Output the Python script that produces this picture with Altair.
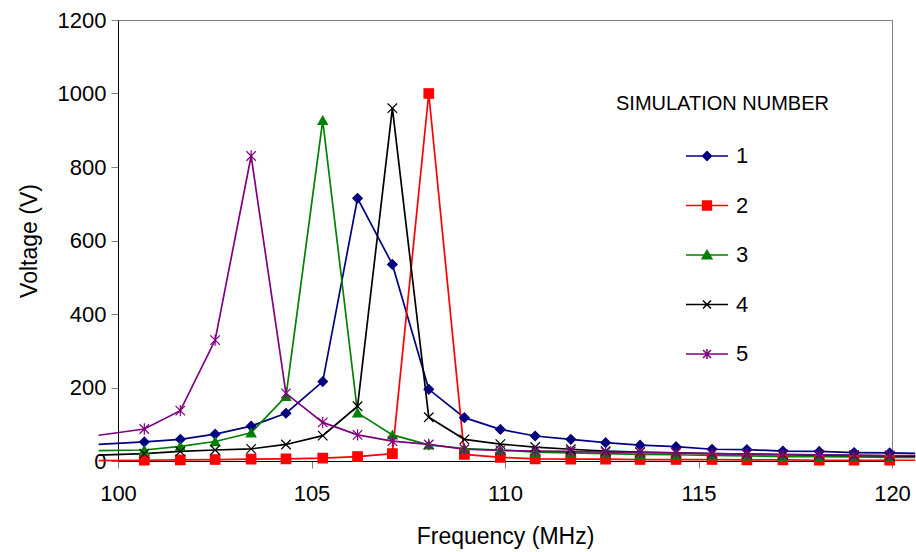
import altair as alt
import pandas as pd

# ---- data ----
freq_mhz = [100.68, 101.61, 102.51, 103.44, 104.34, 105.29, 106.19, 107.09, 108.03, 108.95, 109.88,
            110.78, 111.70, 112.60, 113.49, 114.42, 115.35, 116.25, 117.18, 118.12, 119.02, 119.94]
sim_1 = [52, 59, 73, 95, 130, 216, 715, 535, 195, 118, 86, 68, 59, 50, 43, 39, 32, 31, 27, 26, 23, 22]
sim_2 = [2, 3, 4, 5, 6, 8, 12, 20, 1000, 18, 10, 6, 5, 5, 4, 4, 4, 3, 3, 2, 2, 2]
sim_3 = [30, 40, 53, 77, 176, 927, 131, 71, 44, 34, 30, 24, 22, 20, 18, 17, 15, 14, 12, 12, 11, 10]
sim_4 = [20, 26, 30, 33, 45, 69, 149, 960, 119, 59, 46, 38, 32, 27, 24, 22, 20, 19, 17, 16, 15, 14]
sim_5 = [87, 137, 329, 830, 184, 105, 71, 54, 45, 32, 29, 27, 26, 24, 23, 22, 20, 19, 18, 17, 16, 15]

# line ends visible just outside the axis range (left and right)
edge_freq = [99.5, 120.6]
edge_1 = [45, 21]
edge_2 = [1, 2]
edge_3 = [28, 10]
edge_4 = [16, 13]
edge_5 = [70, 15]

series_names = ["1", "2", "3", "4", "5"]
series_colors = ["#000080", "#FF0000", "#008000", "#000000", "#800080"]
x_ticks = [100, 105, 110, 115, 120]
y_ticks = [0, 200, 400, 600, 800, 1000, 1200]

chart_shapes = [
    "diamond",
    "square",
    "triangle-up",
    "M-1,-1L1,1M-1,1L1,-1",
    "M-1,-1L1,1M-1,1L1,-1M0,-1.2L0,1.2",
]
m = 0.21
legend_shapes = [
    f"M-1,0L1,0M0,-{m}L{m},0L0,{m}L-{m},0Z",
    f"M-1,0L1,0M-{m},-{m}L{m},-{m}L{m},{m}L-{m},{m}Z",
    "M-1,0L1,0M0,-0.22L0.23,0.18L-0.23,0.18Z",
    "M-1,0L1,0M-0.19,-0.19L0.19,0.19M-0.19,0.19L0.19,-0.19",
    "M-1,0L1,0M-0.19,-0.19L0.19,0.19M-0.19,0.19L0.19,-0.19M0,-0.24L0,0.24",
]

rows = []
for name, vals, edge in zip(series_names, [sim_1, sim_2, sim_3, sim_4, sim_5],
                            [edge_1, edge_2, edge_3, edge_4, edge_5]):
    rows.append((edge_freq[0], edge[0], name, "edge"))
    for f, v in zip(freq_mhz, vals):
        rows.append((f, v, name, "data"))
    rows.append((edge_freq[1], edge[1], name, "edge"))
df = pd.DataFrame(rows, columns=["freq", "volt", "series", "kind"])

FONT = "Liberation Sans"

x_enc = alt.X("freq:Q", scale=alt.Scale(domain=[100, 120], nice=False, zero=False),
              axis=alt.Axis(values=x_ticks, title="Frequency (MHz)", labelPadding=15, titlePadding=21,
                            labelFlush=False, format="d"))
y_enc = alt.Y("volt:Q", scale=alt.Scale(domain=[0, 1200], nice=False),
              axis=alt.Axis(values=y_ticks, title="Voltage (V)", labelPadding=5, titlePadding=16,
                            labelFlush=False, format="d"))

col_scale = alt.Scale(domain=series_names, range=series_colors)

lines = alt.Chart(df).mark_line(strokeWidth=1.7).encode(
    x=x_enc, y=y_enc,
    color=alt.Color("series:N", scale=col_scale, legend=None),
)

points = alt.Chart(df).transform_filter(alt.datum.kind == "data").mark_point(
    filled=True, size=90, opacity=1, strokeWidth=1.2
).encode(
    x=x_enc, y=y_enc,
    fill=alt.Fill("series:N", scale=col_scale, legend=None),
    stroke=alt.Stroke("series:N", scale=col_scale, legend=None),
    shape=alt.Shape("series:N", scale=alt.Scale(domain=series_names, range=chart_shapes), legend=None),
)

leg = alt.Legend(
    title="SIMULATION NUMBER", orient="none", legendX=498, legendY=74,
    symbolSize=1764, symbolStrokeWidth=1.5, symbolOffset=69, labelOffset=7,
    rowPadding=16.5, titlePadding=20, padding=0, titleLimit=500,
    titleFont=FONT, titleFontSize=20, titleFontWeight="normal", titleColor="black",
    labelFont=FONT, labelFontSize=22, labelColor="black", symbolOpacity=1,
)

legend_layer = alt.Chart(df).transform_filter(alt.datum.freq > 1000).transform_calculate(
    legend="datum.series"
).mark_point(filled=True, opacity=1, strokeWidth=1.5).encode(
    x=x_enc, y=y_enc,
    fill=alt.Fill("legend:N", scale=col_scale, legend=leg),
    stroke=alt.Stroke("legend:N", scale=col_scale, legend=leg),
    shape=alt.Shape("legend:N", scale=alt.Scale(domain=series_names, range=legend_shapes), legend=leg),
)

chart = alt.layer(lines, points, legend_layer).resolve_scale(
    fill="independent", stroke="independent", shape="independent"
).properties(
    width=774, height=441,
    padding={"left": 118, "top": 20, "right": 24, "bottom": 91},
    autosize=alt.AutoSizeParams(type="none"),
    background="white",
).configure_view(
    stroke="#808080", strokeWidth=1
).configure_axis(
    labelFont=FONT, titleFont=FONT, labelFontSize=22, titleFontSize=23,
    titleFontWeight="normal", labelColor="black", titleColor="black",
    domainColor="black", domainWidth=1, tickColor="#808080", tickSize=7, grid=False,
)

chart.save("out.html", embed_options={"renderer": "svg", "actions": False})
